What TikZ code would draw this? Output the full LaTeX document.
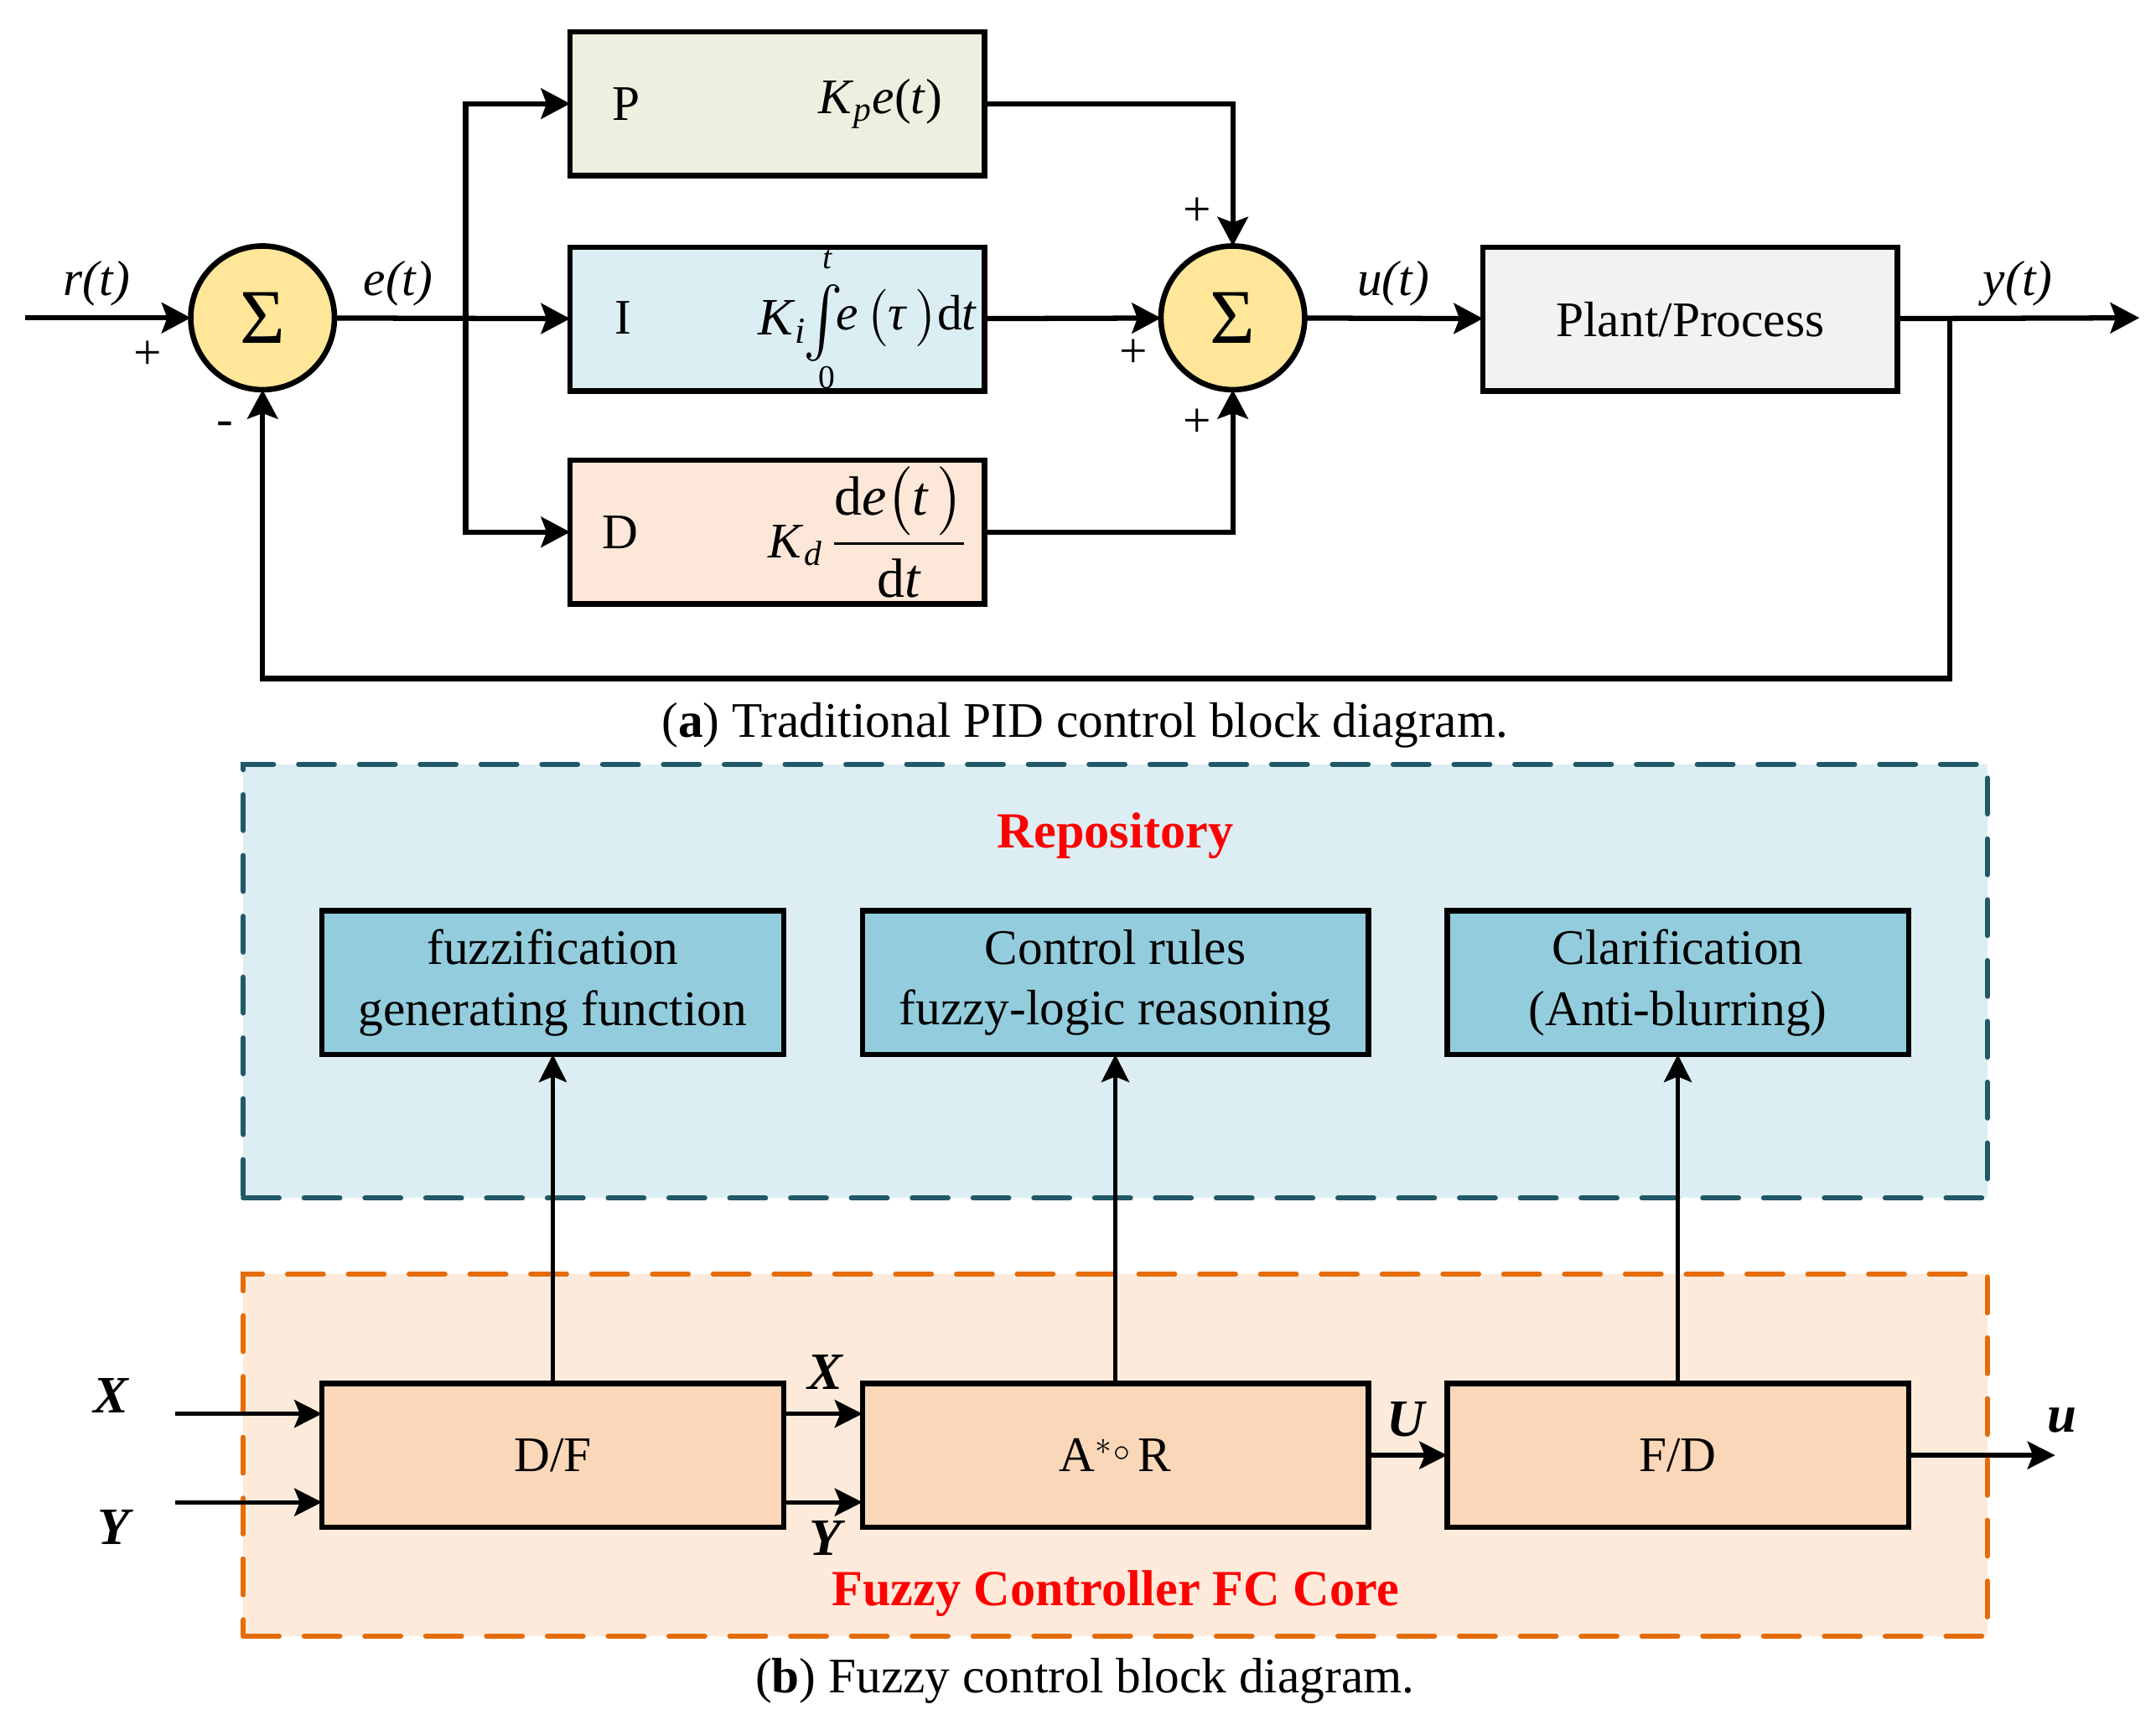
\documentclass[tikz,border=0pt]{standalone}
\usepackage{amsmath}
\usepackage{graphicx}
\usepackage{fontspec}
\setmainfont{Liberation Serif}
\usetikzlibrary{arrows.meta}
\definecolor{pfill}{HTML}{EBF1DE}
\definecolor{ifill}{HTML}{DBEEF3}
\definecolor{dfill}{HTML}{FCE7D8}
\definecolor{sumc}{HTML}{FFE699}
\definecolor{plantc}{HTML}{F2F2F2}
\definecolor{repofill}{HTML}{DCEEF3}
\definecolor{repoline}{HTML}{215968}
\definecolor{subfill}{HTML}{93CDDD}
\definecolor{corefill}{HTML}{FDEADA}
\definecolor{coreline}{HTML}{E46C0A}
\definecolor{lowfill}{HTML}{FAD7B8}
\definecolor{redc}{HTML}{FF0000}
\begin{document}
\begin{tikzpicture}[x=0.5pt,y=-0.5pt,
  blk/.style={draw=black,line width=2pt,minimum width=150pt,minimum height=52pt,inner sep=0pt,outer sep=0pt},
  fblk/.style={draw=black,line width=2pt,minimum width=167pt,minimum height=52pt,inner sep=0pt,outer sep=0pt,align=center,font=\fontsize{18}{22}\selectfont},
  fblkw/.style={fblk,minimum width=183pt},
  sumn/.style={circle,draw=black,line width=2pt,fill=sumc,minimum size=52pt,inner sep=0pt,outer sep=0pt,font=\fontsize{28}{30}\selectfont},
  arr/.style={line width=1.9pt,-{Stealth[length=10.5pt,width=11pt,inset=2pt]}},
  barr/.style={line width=1.6pt,-{Stealth[length=10pt,width=10pt,inset=2pt]}},
  lbl/.style={font=\fontsize{18}{22}\selectfont\itshape,inner sep=0pt},
  txt/.style={font=\fontsize{18}{22}\selectfont,inner sep=0pt},
  lim/.style={font=\fontsize{12}{14}\selectfont,inner sep=0pt},
  bil/.style={font=\fontsize{19}{22}\selectfont\bfseries\itshape,inner sep=0pt},
  rtitle/.style={font=\fontsize{18.3}{22}\selectfont\bfseries,text=redc,inner sep=0pt},
  dashbox/.style={line width=1.8pt,dash pattern=on 13pt off 9pt,line cap=round,inner sep=0pt,outer sep=0pt}
]
\useasboundingbox (0,0) rectangle (1560,1240.4);

% ---------- (a) PID ----------
\coordinate (rin) at (18,230);
\node[sumn] (s1) at (190,230) {Σ};
\coordinate (br) at (337,230);
\node[blk,fill=pfill] (P) at (562.5,75) {};
\node[blk,fill=ifill] (I) at (562.5,231) {};
\node[blk,fill=dfill] (D) at (562.5,385) {};
\node[sumn] (s2) at (892,230) {Σ};
\node[blk,fill=plantc,font=\fontsize{18}{22}\selectfont] (pl) at (1223,231) {Plant/Process};
\coordinate (fb) at (1411,230);
\coordinate (yout) at (1548,230);
\coordinate (fbb) at (1411,491);

\node[txt] (Pl) at (453,75) {P};
\node[txt] (Pf) at (637,75) {\textit{K}$_{\textit{p}}$\textit{e}(\textit{t})};
\node[txt] (Il) at (451,230) {I};
\node[txt,font=\fontsize{19}{22}\selectfont] (Ki) at (566,233) {\textit{K}$_{\textit{i}}$};
\node[txt] (Iint) at (596,246) {\smash{\scalebox{1.25}[1.45]{$\int$}}};
\node[lim] (Itl) at (599,188) {\textit{t}};
\node[lim] (I0l) at (598,273) {0};
\node[txt] (Ief) at (656,230) {\textit{e}$\,\bigl($\textit{τ}$\,\bigr)$d\textit{t}};
\node[txt] (Dl) at (449,385) {D};
\node[txt] (Df) at (628,385) {\textit{K}$_{\textit{d}}$\,\mbox{\fontsize{20}{24}\selectfont${\displaystyle\frac{\textrm{d}\textit{e}\bigl(\textit{t}\,\bigr)}{\textrm{d}\textit{t}}}$}};

\draw[arr] (rin) -- (s1);
\draw[arr] (s1) -- (I);
\draw[arr] (br) |- (P.west);
\draw[arr] (br) |- (D.west);
\draw[arr] (P.east) -| (s2.north);
\draw[arr] (I) -- (s2);
\draw[arr] (D.east) -| (s2.south);
\draw[arr] (s2) -- (pl);
\draw[arr] (pl) -- (yout);
\draw[arr] (fb) -- (fbb) -| (s1.south);

\node[lbl] (lr) at (70,205) {r(t)};
\node[lbl] (le) at (288,205) {e(t)};
\node[lbl] (lu) at (1008,205) {u(t)};
\node[lbl] (ly) at (1460,205) {y(t)};
\node[txt] (p1) at (107,257) {+};
\node[txt] (m1) at (163,310) {-};
\node[txt] (p2) at (866,153) {+};
\node[txt] (p3) at (820,256) {+};
\node[txt] (p4) at (866,306) {+};

\node[txt] (capa) at (785,525) {(\textbf{a}) Traditional PID control block diagram.};

% ---------- (b) Fuzzy ----------
\node[dashbox,draw=repoline,fill=repofill,minimum width=631pt,minimum height=157pt] (repo) at (807,710) {};
\node[dashbox,draw=coreline,fill=corefill,minimum width=631pt,minimum height=131pt] (core) at (807,1053) {};

\node[rtitle] (rt) at (807,605) {Repository};
\node[rtitle] (ct) at (807,1153) {Fuzzy Controller FC Core};

\node[fblk,fill=subfill] (fz) at (400,711) {fuzzification\\generating function};
\node[fblkw,fill=subfill] (cr) at (807,711) {Control rules\\fuzzy-logic reasoning};
\node[fblk,fill=subfill] (cl) at (1214,711) {Clarification\\(Anti-blurring)};

\node[fblk,fill=lowfill] (df) at (400,1053) {D/F};
\node[fblkw,fill=lowfill] (ar) at (807,1053) {A$^{*}$\raisebox{0.45ex}{$\scriptstyle\circ$}\,R};
\node[fblk,fill=lowfill] (fd) at (1214,1053) {F/D};

\draw[barr] (df) -- (fz);
\draw[barr] (ar) -- (cr);
\draw[barr] (fd) -- (cl);

\coordinate (xin) at (127,1023);
\coordinate (yin) at (127,1087);
\coordinate (uout) at (1487,1053);
\draw[barr] (xin) -- (xin -| df.west);
\draw[barr] (yin) -- (yin -| df.west);
\draw[barr] (df.east |- xin) -- (ar.west |- xin);
\draw[barr] (df.east |- yin) -- (ar.west |- yin);
\draw[barr] (ar) -- (fd);
\draw[barr] (fd) -- (uout);

\node[bil] (lX) at (80,1010) {X};
\node[bil] (lY) at (82,1105) {Y};
\node[bil] (lX2) at (597,993) {X};
\node[bil] (lY2) at (597,1113) {Y};
\node[bil] (lU) at (1017,1027) {U};
\node[bil] (lu2) at (1492,1028) {u};

\node[txt] (capb) at (785,1216) {(\textbf{b}) Fuzzy control block diagram.};
\end{tikzpicture}
\end{document}
